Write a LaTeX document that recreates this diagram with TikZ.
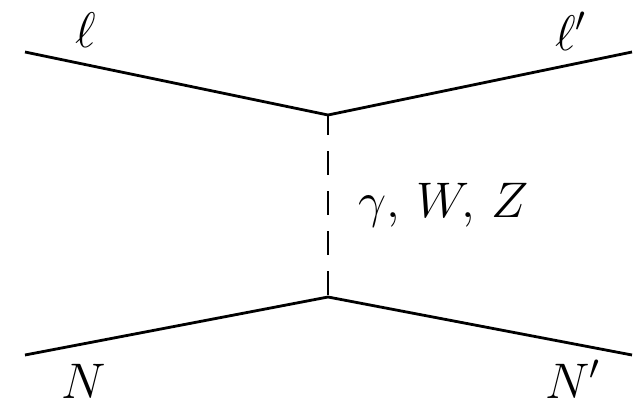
\RequirePackage{fix-cm}
\documentclass[tikz,border=0pt]{standalone}
\usepackage{amsmath}
\begin{document}
\begin{tikzpicture}[x=1pt,y=-1pt,
  fermion/.style={line width=2.8pt},
  boson/.style={line width=2.8pt,dash pattern=on 24pt off 16pt,dash phase=4pt},
  lbl/.style={inner sep=0pt,font=\fontsize{50}{56}\selectfont}]
\useasboundingbox (0,0) rectangle (639,407);
\coordinate (a) at (25,52);
\coordinate (b) at (632,52);
\coordinate (c) at (25,355);
\coordinate (d) at (632,355);
\coordinate (v1) at (328,115);
\coordinate (v2) at (328,297);
\draw[fermion] (a) -- (v1) -- (b);
\draw[fermion] (c) -- (v2) -- (d);
\draw[boson] (v1) -- (v2);
\node[lbl,anchor=base west] (l) at (75,47) {$\ell$};
\node[lbl,anchor=base west] (lp) at (555,50) {$\ell'$};
\node[lbl,anchor=base west] (n) at (61,398) {$N$};
\node[lbl,anchor=base west] (np) at (545,398) {$N'$};
\node[lbl,anchor=base west] (g) at (358,217) {$\gamma,\, W,\, Z$};
\end{tikzpicture}
\end{document}
